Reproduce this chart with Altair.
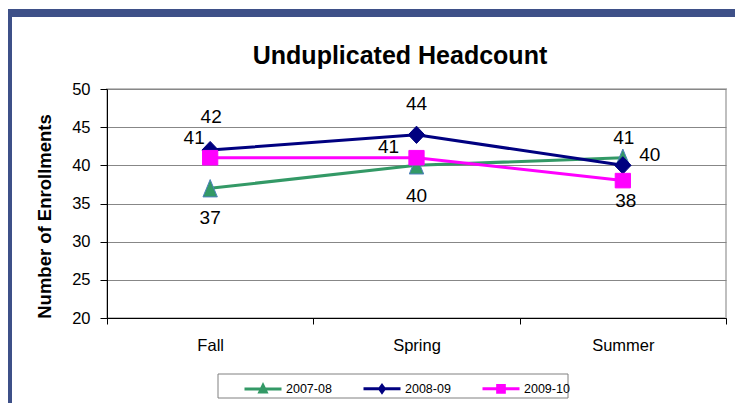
import altair as alt
import pandas as pd

# ---- data ----
categories = ["Fall", "Spring", "Summer"]
series_names = ["2007-08", "2008-09", "2009-10"]
values_2007_08 = [37, 40, 41]
values_2008_09 = [42, 44, 40]
values_2009_10 = [41, 41, 38]
y_ticks = [20, 25, 30, 35, 40, 45, 50]
chart_title = "Unduplicated Headcount"
y_title = "Number of Enrollments"

# ---- styles ----
FONT = "Liberation Sans"
line_colors = ["#339966", "#000080", "#FF00FF"]
marker_strokes = ["#4F81BD", "#000080", "#FF00FF"]
marker_paths = [
    "M0,-1L0.83,1L-0.83,1Z",
    "M0,-1L0.95,0L0,1L-0.95,0Z",
    "M-0.88,-0.84H0.88V0.84H-0.88Z",
]
legend_paths = [
    "M-1,0H1M0,-0.2L0.17,0.15L-0.17,0.15Z",
    "M-1,0H1M0,-0.18L0.13,0L0,0.18L-0.13,0Z",
    "M-1,0H1M-0.18,-0.18H0.18V0.18H-0.18Z",
]
legend_fills = ["#4F81BD", "#000080", "#FF00FF"]
# label offsets in pixels (dx, dy) per (series, category)
label_offsets = {
    ("2007-08", "Fall"): (0, 30),
    ("2007-08", "Spring"): (0, 31),
    ("2007-08", "Summer"): (1, -20),
    ("2008-09", "Fall"): (1, -33),
    ("2008-09", "Spring"): (0, -31),
    ("2008-09", "Summer"): (27, -10),
    ("2009-10", "Fall"): (-16, -20),
    ("2009-10", "Spring"): (-28, -11),
    ("2009-10", "Summer"): (3, 20),
}

all_values = [values_2007_08, values_2008_09, values_2009_10]
rows = []
for s, vals in zip(series_names, all_values):
    for c, v in zip(categories, vals):
        rows.append({"series": s, "category": c, "value": v})
df = pd.DataFrame(rows)

x_enc = alt.X(
    "category:N",
    sort=categories,
    scale=alt.Scale(type="band", domain=categories, paddingInner=0, paddingOuter=0),
    axis=alt.Axis(
        title=None, labelFont=FONT, labelFontSize=16.5, labelColor="black",
        labelAngle=0, labelBaseline="alphabetic", labelPadding=26,
        tickBand="extent", tickSize=6, tickColor="black", domainColor="black",
        grid=False,
    ),
)
y_enc = alt.Y(
    "value:Q",
    scale=alt.Scale(domain=[20, 50], nice=False, zero=False),
    axis=alt.Axis(
        values=y_ticks, title=y_title, titleFont=FONT, titleFontSize=18.5,
        titleFontWeight="bold", titleColor="black", titleAngle=270,
        titleX=-57, titleY=127, titleAlign="center", titleBaseline="alphabetic",
        labelFont=FONT, labelFontSize=16.5, labelColor="black", labelPadding=10,
        tickSize=7, tickColor="black", domainColor="black",
        grid=True, gridColor="#878787",
    ),
)

legend = alt.Legend(
    title=None, orient="none", legendX=136, legendY=279.5, direction="horizontal",
    columns=3, columnPadding=25, padding=0, symbolSize=1369, symbolStrokeWidth=3,
    symbolOpacity=1,
    labelFont=FONT, labelFontSize=12.5, labelColor="black", labelOffset=3,
)

lines = alt.Chart(df).mark_line(strokeWidth=3).encode(
    x=x_enc, y=y_enc,
    color=alt.Color("series:N", scale=alt.Scale(domain=series_names, range=line_colors), legend=None),
    detail="series:N",
)

points = alt.Chart(df).mark_point(filled=True, size=300, strokeWidth=1, opacity=1).encode(
    x=x_enc, y=y_enc,
    fill=alt.Fill("series:N", scale=alt.Scale(domain=series_names, range=line_colors), legend=None),
    stroke=alt.Stroke("series:N", scale=alt.Scale(domain=series_names, range=marker_strokes), legend=None),
    shape=alt.Shape("series:N", scale=alt.Scale(domain=series_names, range=marker_paths), legend=None),
)

# legend-only layer (no data rows drawn; entries come from the explicit domain)
legend_layer = alt.Chart(df).transform_filter("false").mark_point(
    filled=True, size=1369, strokeWidth=3, opacity=1
).encode(
    x=x_enc, y=y_enc,
    fill=alt.Fill("series:N", scale=alt.Scale(domain=series_names, range=legend_fills), legend=legend),
    stroke=alt.Stroke("series:N", scale=alt.Scale(domain=series_names, range=line_colors), legend=legend),
    shape=alt.Shape("series:N", scale=alt.Scale(domain=series_names, range=legend_paths), legend=legend),
)

label_layers = []
for (s, c), (dx, dy) in label_offsets.items():
    label_layers.append(
        alt.Chart(df).transform_filter(
            (alt.datum.series == s) & (alt.datum.category == c)
        ).mark_text(font=FONT, fontSize=19, color="black", align="center",
                    baseline="middle", dx=dx, dy=dy).encode(
            x=x_enc, y=y_enc, text="value:Q")
    )

one = pd.DataFrame({"t": [chart_title]})
title_layer = alt.Chart(one).mark_text(
    font=FONT, fontSize=25, fontWeight="bold", color="black",
    align="center", baseline="alphabetic",
).encode(x=alt.value(293), y=alt.value(-25), text="t:N")

frame_color = "#3E5088"
top_border = alt.Chart(one).mark_rect(color=frame_color).encode(
    x=alt.value(-99), x2=alt.value(628), y=alt.value(-80), y2=alt.value(-72))
left_border = alt.Chart(one).mark_rect(color=frame_color).encode(
    x=alt.value(-99), x2=alt.value(-95), y=alt.value(-80), y2=alt.value(314))
legend_box = alt.Chart(one).mark_rect(fill="white", stroke="#808080", strokeWidth=1).encode(
    x=alt.value(111), x2=alt.value(461), y=alt.value(285), y2=alt.value(309))

chart = alt.layer(
    top_border, left_border, legend_box, lines, points, legend_layer, *label_layers, title_layer
).resolve_scale(
    fill="independent", stroke="independent", shape="independent"
).properties(
    width=619, height=229,
    autosize=alt.AutoSizeParams(type="none"),
    padding={"left": 99, "top": 81, "right": 9, "bottom": 85},
    background="white",
).configure_view(stroke="#BFBFBF", strokeWidth=2)

chart.save("out.html", embed_options={"renderer": "svg", "actions": False})
